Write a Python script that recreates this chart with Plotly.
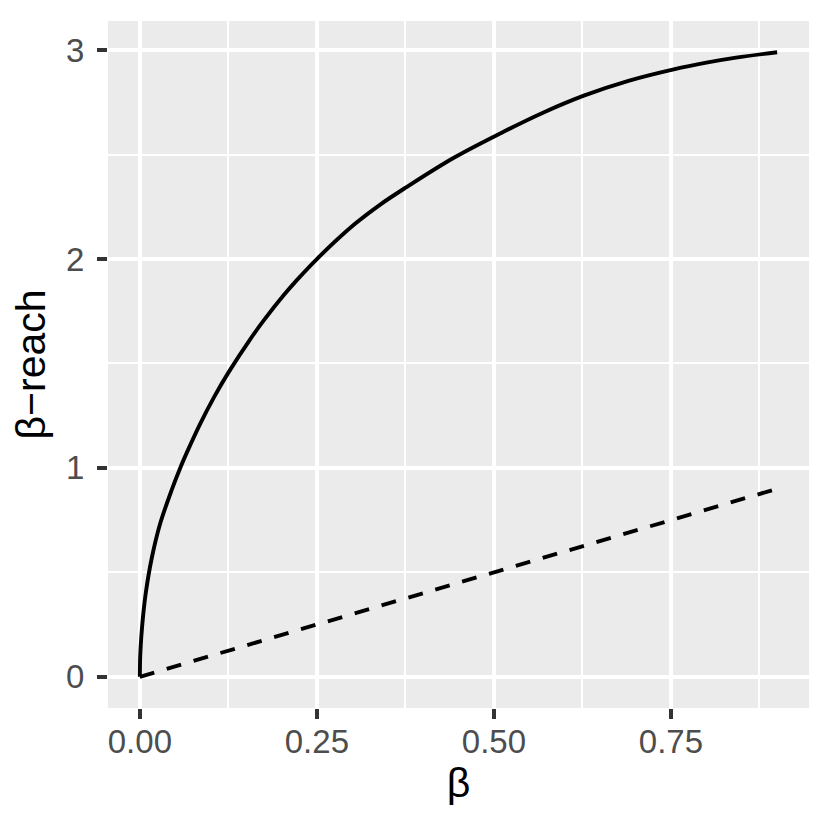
import plotly.graph_objects as go

# Curve
beta = [0, 0.0005, 0.002, 0.0045, 0.0085, 0.0166, 0.0284, 0.045, 0.057, 0.0685,
        0.085, 0.105, 0.125, 0.156, 0.175, 0.203, 0.222, 0.25, 0.303, 0.34,
        0.376, 0.444, 0.511, 0.567, 0.627, 0.69, 0.754, 0.80, 0.842, 0.9]
reach = [0, 0.10, 0.19, 0.29, 0.405, 0.565, 0.73, 0.895, 1.00, 1.09,
         1.21, 1.34, 1.456, 1.617, 1.706, 1.826, 1.90, 2.0, 2.166, 2.262,
         2.343, 2.486, 2.605, 2.697, 2.782, 2.853, 2.908, 2.94, 2.964, 2.99]

# Dashed reference line
beta_line = [0, 0.9]
line_vals = [0, 0.9]

x_ticks = [0, 0.25, 0.5, 0.75]
x_labels = ["0.00", "0.25", "0.50", "0.75"]
y_ticks = [0, 1, 2, 3]
y_labels = ["0", "1", "2", "3"]

fig = go.Figure()
fig.add_trace(go.Scatter(x=beta, y=reach, mode="lines",
                         line=dict(color="black", width=3.9, shape="spline", smoothing=1.0),
                         showlegend=False, hoverinfo="skip"))
fig.add_trace(go.Scatter(x=beta_line, y=line_vals, mode="lines",
                         line=dict(color="black", width=3.9, dash="15px,13px"),
                         showlegend=False, hoverinfo="skip"))

font_family = "Liberation Sans, Arial, sans-serif"

fig.update_layout(
    width=830, height=830,
    margin=dict(l=100, r=29, t=13, b=130, autoexpand=False),
    paper_bgcolor="white",
    plot_bgcolor="#EBEBEB",
    font=dict(family=font_family),
    xaxis=dict(
        range=[-0.045, 0.945],
        tickvals=x_ticks, ticktext=x_labels,
        showgrid=True, gridcolor="white", gridwidth=4,
        minor=dict(tickvals=[0.125, 0.375, 0.625, 0.875], showgrid=True,
                   gridcolor="white", gridwidth=2, ticks=""),
        zeroline=False, showline=False,
        ticks="outside", ticklen=10, tickwidth=3.5, tickcolor="#333333",
        tickfont=dict(size=33, color="#4D4D4D", family=font_family),
        ticklabelstandoff=-6,
        title=dict(text="β", font=dict(size=41, color="black", family=font_family), standoff=5),
        automargin=False,
    ),
    yaxis=dict(
        range=[-0.1495, 3.1395],
        tickvals=y_ticks, ticktext=y_labels,
        showgrid=True, gridcolor="white", gridwidth=4,
        minor=dict(tickvals=[0.5, 1.5, 2.5], showgrid=True,
                   gridcolor="white", gridwidth=2, ticks=""),
        zeroline=False, showline=False,
        ticks="outside", ticklen=10, tickwidth=3.5, tickcolor="#333333",
        tickfont=dict(size=33, color="#4D4D4D", family=font_family),
        ticklabelstandoff=6,
        title=dict(text="β−reach", font=dict(size=41, color="black", family=font_family), standoff=8),
        automargin=False,
    ),
)

fig.write_html("out.html")
